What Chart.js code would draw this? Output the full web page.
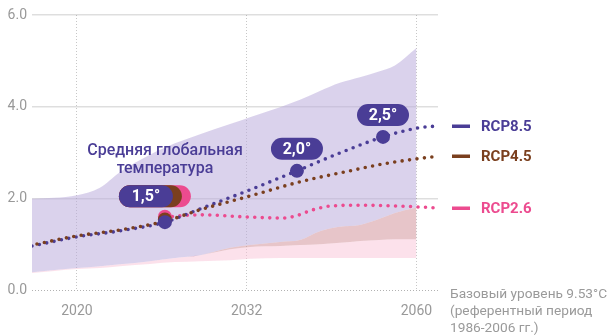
<!DOCTYPE html>
<html>
<head>
<meta charset="utf-8">
<script src="https://cdn.jsdelivr.net/npm/chart.js@4"></script>
<style>
html,body{margin:0;padding:0;background:#fff}
#wrap{width:608px;height:335px;position:relative}
</style>
</head>
<body>
<div id="wrap"><canvas id="chart"></canvas></div>
<script>
// x is a position along the axis: 1 = 2020, 2 = 2032, 3 = 2060 (axis is not to scale)
const tickPos=[1,2,3];
const yearLabels=["2020","2032","2060"];
const yTicks=[0,2,4,6];

const x85=[0.735,1.0,1.253,1.518,1.725,2.001,2.296,2.549,2.803,3.0,3.127];
const rcp85=[0.96,1.16,1.29,1.48,1.77,2.16,2.60,2.99,3.34,3.53,3.58];
const x45=[0.735,1.0,1.253,1.518,1.725,2.019,2.314,2.608,2.803,3.0,3.127];
const rcp45=[0.98,1.18,1.31,1.50,1.75,2.05,2.36,2.60,2.75,2.86,2.92];
const x26=[1.518,1.725,2.019,2.214,2.284,2.390,2.490,2.667,2.903,3.127];
const rcp26=[1.59,1.64,1.59,1.57,1.61,1.75,1.83,1.85,1.83,1.79];

// uncertainty ranges
const bandX=[0.735,1.0,1.135,1.253,1.43,1.577,1.725,1.902,2.019,2.196,2.314,2.431,2.549,2.667,2.779,2.873,3.0];
const rangeHigh=[1.99,2.07,2.23,2.57,2.95,3.20,3.40,3.62,3.77,3.99,4.15,4.34,4.52,4.64,4.77,4.90,5.28];
const rangeLow=[0.39,0.48,0.52,0.56,0.63,0.70,0.76,0.89,0.94,0.96,0.98,1.00,1.03,1.07,1.09,1.11,1.11];
const mixHigh=[0.39,0.48,0.52,0.56,0.63,0.70,0.76,0.92,0.98,1.05,1.09,1.28,1.38,1.42,1.55,1.68,1.80];
const lowHigh26=[0.37,0.46,0.48,0.52,0.57,0.61,0.63,0.65,0.68,0.70,0.70,0.70,0.70,0.70,0.70,0.70,0.70];

// threshold markers
const markX=[1.518,2.296,2.803];
const markY=[1.48,2.60,3.34];
const markLabels=["1,5°","2,0°","2,5°"];
const mark45=[{x:1.518,y:1.54}];
const mark26=[{x:1.518,y:1.60}];

const seriesNames=["RCP8.5","RCP4.5","RCP2.6"];
const noteLines=["Средняя глобальная","температура"];
const baseNote=["Базовый уровень 9.53°C","(референтный период","1986-2006 гг.)"];

const c85="#4a3d96",c45="#7a3f1e",c26="#ec4b8f";
const pts=(xs,ys)=>xs.map((x,i)=>({x:x,y:ys[i]}));

function pill(ctx,x,y,w,h,col){
ctx.fillStyle=col;
ctx.beginPath();
ctx.arc(x+h/2,y+h/2,h/2,Math.PI/2,Math.PI*1.5);
ctx.arc(x+w-h/2,y+h/2,h/2,-Math.PI/2,Math.PI/2);
ctx.closePath();
ctx.fill();
}

const notes={
id:"notes",
afterDatasetsDraw(chart){
const ctx=chart.ctx,xs=chart.scales.x,ys=chart.scales.y;
ctx.save();
// badges
markX.forEach((mx,i)=>{
let px=xs.getPixelForValue(mx),py=ys.getPixelForValue(markY[i]);
let cx,cy;
if(i===0){
cx=px-19;cy=py-26;
pill(ctx,cx-27,cy-11,72,22,c26);
pill(ctx,cx-27,cy-11,63,22,c45);
pill(ctx,cx-27,cy-11,54,22,c85);
}else{
cx=px;cy=py-22;
pill(ctx,cx-26,cy-11,52,22,c85);
}
ctx.fillStyle="#fff";
ctx.font="bold 16px Roboto";
ctx.textAlign="center";ctx.textBaseline="middle";
ctx.fillText(markLabels[i],cx,cy+1);
});
// series label
ctx.fillStyle=c85;
ctx.font="500 16px Roboto";
ctx.textAlign="center";ctx.textBaseline="middle";
ctx.fillText(noteLines[0],165,151);
ctx.fillText(noteLines[1],165,169);
// right legend at line ends
[[rcp85,c85],[rcp45,c45],[rcp26,c26]].forEach((s,i)=>{
let py=Math.round(ys.getPixelForValue(s[0][s[0].length-1]));
ctx.fillStyle=s[1];
ctx.fillRect(452,py-1.5,18,3.5);
ctx.font="bold 15px Roboto";
ctx.textAlign="left";ctx.textBaseline="middle";
ctx.fillText(seriesNames[i],481,py+1);
});
// baseline note
ctx.fillStyle="#9a9a9a";
ctx.font="13.7px Roboto";
ctx.textAlign="left";ctx.textBaseline="middle";
baseNote.forEach((t,i)=>ctx.fillText(t,450,295+i*17));
ctx.restore();
}
};

const dotted={borderWidth:3.6,borderDash:[0,7.5],borderCapStyle:"round",pointRadius:0,fill:false,tension:0.4,cubicInterpolationMode:"monotone"};
const band={borderWidth:0,pointRadius:0,tension:0.4,cubicInterpolationMode:"monotone"};

new Chart(document.getElementById("chart"),{
type:"line",
data:{datasets:[
{label:"RCP8.5",data:pts(x85,rcp85),borderColor:c85,...dotted,order:3},
{label:"RCP4.5",data:pts(x45,rcp45),borderColor:c45,borderDashOffset:2.4,...dotted,order:2},
{label:"RCP2.6",data:pts(x26,rcp26),borderColor:c26,...dotted,order:4},
{label:"m26",data:mark26,showLine:false,pointRadius:7,pointBackgroundColor:c26,pointBorderWidth:0,order:1.5},
{label:"m45",data:mark45,showLine:false,pointRadius:7,pointBackgroundColor:c45,pointBorderWidth:0,order:1.2},
{label:"m85",data:pts(markX,markY),showLine:false,pointRadius:7,pointBackgroundColor:c85,pointBorderWidth:0,order:1},
{label:"rangeLow",data:pts(bandX,rangeLow),...band,fill:false,order:20},
{label:"rangeHigh",data:pts(bandX,rangeHigh),...band,fill:8,backgroundColor:"rgba(184,168,218,0.52)",order:21},
{label:"mix",data:pts(bandX,mixHigh),...band,fill:6,backgroundColor:"rgba(208,140,148,0.5)",order:19},
{label:"low26",data:pts(bandX,lowHigh26),...band,fill:6,backgroundColor:"rgba(249,196,215,0.5)",order:22}
]},
options:{
responsive:true,maintainAspectRatio:false,animation:false,
layout:{padding:{top:15,right:170,left:0,bottom:0}},
plugins:{legend:{display:false},tooltip:{enabled:false}},
scales:{
x:{type:"linear",min:0.735,max:3.127,
afterBuildTicks:s=>{s.ticks=tickPos.map(v=>({value:v}));},
afterFit:s=>{s.height=45;},
grid:{color:"rgba(0,0,0,0.22)",lineWidth:1,drawTicks:false},
border:{display:false,dash:[1,2]},
ticks:{callback:v=>yearLabels[tickPos.indexOf(v)],color:"#999",font:{family:"Roboto",size:14},padding:13,maxRotation:0,autoSkip:false}
},
y:{min:0,max:6,
afterBuildTicks:s=>{s.ticks=yTicks.map(v=>({value:v}));},
afterFit:s=>{s.width=32;},
grid:{color:c=>c.tick&&c.tick.value===0?"rgba(0,0,0,0.3)":"rgba(0,0,0,0.13)",lineWidth:c=>c.tick&&c.tick.value===0?1:1.5,drawTicks:false},
border:{display:false,dash:c=>c.tick&&c.tick.value===0?[1,2]:[]},
ticks:{callback:v=>v.toFixed(1),color:"#999",font:{family:"Roboto",size:14},padding:5}
}
}
},
plugins:[notes]
});
</script>
</body>
</html>
